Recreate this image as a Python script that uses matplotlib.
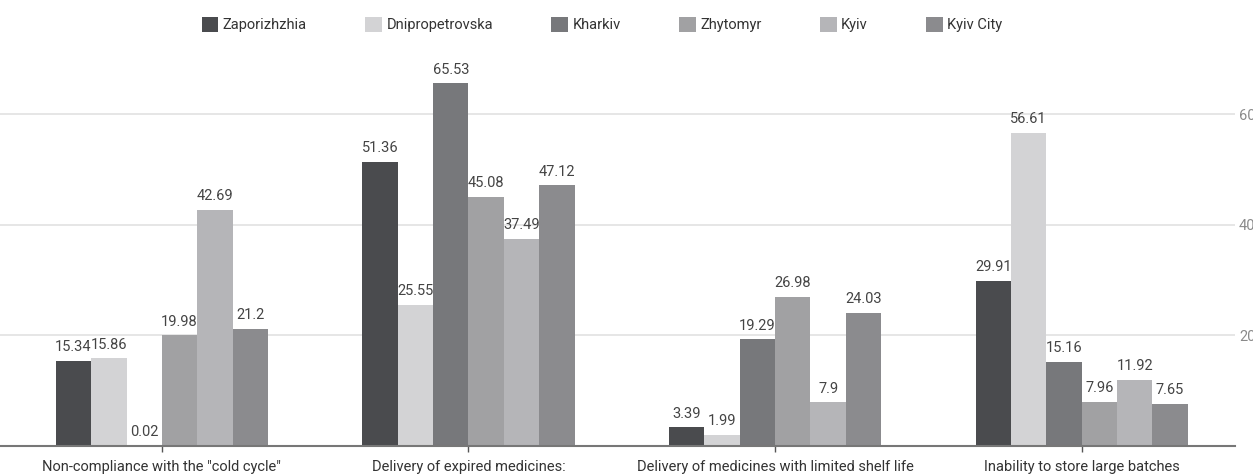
import numpy as np
import matplotlib
matplotlib.use("Agg")
from matplotlib import pyplot as plt
from matplotlib.patches import Patch

plt.rcParams['font.family'] = ['Roboto', 'DejaVu Sans']

categories = ['Non-compliance with the "cold cycle"',
              'Delivery of expired medicines:',
              'Delivery of medicines with limited shelf life',
              'Inability to store large batches']

regions = ['Zaporizhzhia', 'Dnipropetrovska', 'Kharkiv', 'Zhytomyr', 'Kyiv', 'Kyiv City']

zaporizhzhia    = [15.34, 51.36, 3.39, 29.91]
dnipropetrovska = [15.86, 25.55, 1.99, 56.61]
kharkiv         = [0.02, 65.53, 19.29, 15.16]
zhytomyr        = [19.98, 45.08, 26.98, 7.96]
kyiv            = [42.69, 37.49, 7.9, 11.92]
kyiv_city       = [21.2, 47.12, 24.03, 7.65]

series = [zaporizhzhia, dnipropetrovska, kharkiv, zhytomyr, kyiv, kyiv_city]
colors = ['#4a4b4e', '#d3d3d5', '#77787b', '#a1a1a3', '#b5b5b8', '#8b8b8e']

fig = plt.figure(figsize=(12.53, 4.74), dpi=100)
ax = fig.add_axes([0.0, 0.0591, 0.9856, 0.817])

x = np.arange(len(categories))
w = 0.1154

for i, (vals, col) in enumerate(zip(series, colors)):
    pos = x + (i - 2.5) * w
    ax.bar(pos, vals, width=w, color=col, zorder=3)
    for px, v in zip(pos, vals):
        ax.annotate(f'{v:g}', (px, v), xytext=(0, 7), textcoords='offset points',
                    ha='center', va='baseline', fontsize=10.5, color='#444444')

ax.set_xlim(-0.528, 3.5)
ax.set_ylim(0, 70)

ax.yaxis.tick_right()
ax.set_yticks([20, 40, 60])
ax.set_yticklabels(['20', '40', '60'])
ax.tick_params(axis='y', length=0, pad=3, labelsize=10.5, labelcolor='#8a8a8a')
ax.grid(axis='y', color='#e2e2e2', linewidth=1.2, zorder=0)

ax.set_xticks(x)
ax.set_xticklabels(categories)
ax.tick_params(axis='x', length=4, width=1, color='#555555', pad=6,
               labelsize=10.5, labelcolor='#333333')

for s in ['top', 'left', 'right']:
    ax.spines[s].set_visible(False)
ax.spines['bottom'].set_color('#777777')
ax.spines['bottom'].set_linewidth(1.5)
ax.spines['bottom'].set_zorder(4)

handles = [Patch(facecolor=c, edgecolor='none') for c in colors]
fig.legend(handles, regions, loc='center', bbox_to_anchor=(0.4805, 0.948),
           ncol=6, frameon=False, fontsize=10.5, handlelength=1.15, handleheight=1.15,
           handletextpad=0.3, columnspacing=4.0, labelcolor='#333333')

fig.savefig('out.png', dpi=100)
